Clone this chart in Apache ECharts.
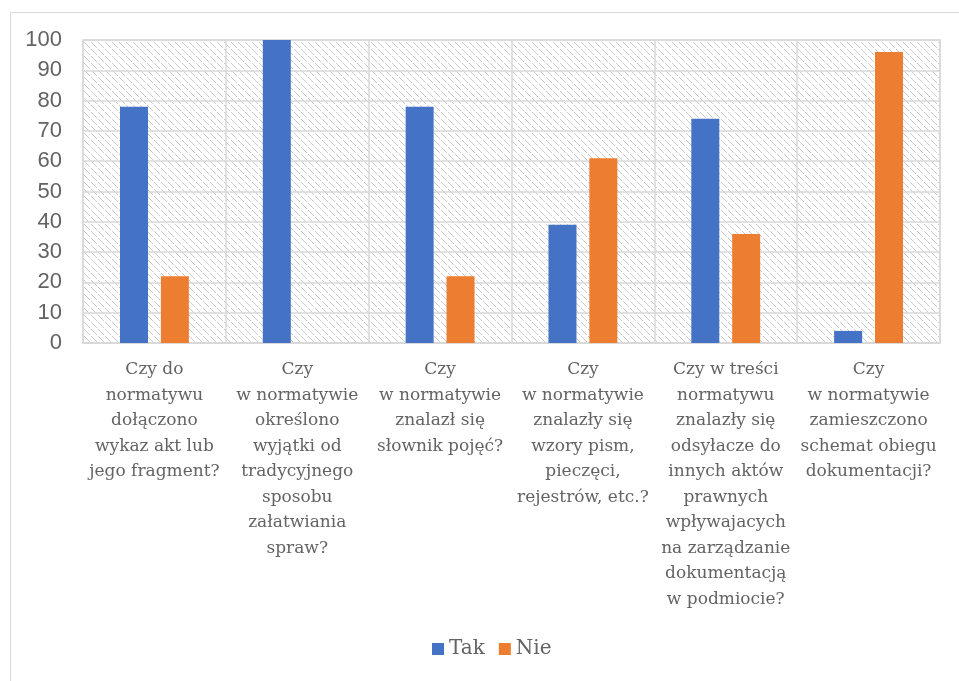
<!DOCTYPE html>
<html>
<head>
<meta charset="utf-8">
<script src="https://cdn.jsdelivr.net/npm/echarts@6/dist/echarts.min.js"></script>
<style>
  html, body { margin: 0; padding: 0; background: #fff; }
  #chart { width: 959px; height: 681px; }
</style>
</head>
<body>
<div id="chart"></div>
<script>
// Survey questions (category axis)
const categories = [
  'Czy do\nnormatywu\ndołączono\nwykaz akt lub\njego fragment?',
  'Czy\nw normatywie\nokreślono\nwyjątki od\ntradycyjnego\nsposobu\nzałatwiania\nspraw?',
  'Czy\nw normatywie\nznalazł się\nsłownik pojęć?',
  'Czy\nw normatywie\nznalazły się\nwzory pism,\npieczęci,\nrejestrów, etc.?',
  'Czy w treści\nnormatywu\nznalazły się\nodsyłacze do\ninnych aktów\nprawnych\nwpływajacych\nna zarządzanie\ndokumentacją\nw podmiocie?',
  'Czy\nw normatywie\nzamieszczono\nschemat obiegu\ndokumentacji?'
];
// Answer shares (%)
const takValues = [78, 100, 78, 39, 74, 4];
const nieValues = [22, 0, 22, 61, 36, 96];
const seriesNames = ['Tak', 'Nie'];

// Light diagonal hatch used as plot background
function hatchPattern() {
  const size = 7;
  const c = document.createElement('canvas');
  c.width = size; c.height = size;
  const ctx = c.getContext('2d');
  ctx.fillStyle = '#ffffff';
  ctx.fillRect(0, 0, size, size);
  ctx.fillStyle = '#cccccc';
  for (let i = 0; i < size; i++) {
    if (i % 7 === 6) continue;
    ctx.fillRect(i, i, 1, 1);
  }
  return c;
}

const chart = echarts.init(document.getElementById('chart'));
chart.setOption({
  animation: false,
  backgroundColor: '#ffffff',
  graphic: [{
    type: 'rect',
    left: 8, top: 10,
    shape: { width: 1000, height: 720 },
    style: { fill: 'none', stroke: '#d9d9d9', lineWidth: 1 },
    silent: true
  }],
  grid: {
    left: 83, right: 19, top: 40, bottom: 338,
    show: true,
    backgroundColor: { image: hatchPattern(), repeat: 'repeat' },
    borderColor: '#d9d9d9',
    borderWidth: 1.5
  },
  legend: {
    data: seriesNames,
    bottom: 17,
    left: 427,
    itemWidth: 12,
    itemHeight: 12,
    itemGap: 14,
    icon: 'rect',
    textStyle: { fontFamily: 'DejaVu Serif', fontSize: 20, color: '#636363' }
  },
  xAxis: {
    type: 'category',
    data: categories,
    axisLine: { show: true, lineStyle: { color: '#d9d9d9', width: 1.5 } },
    axisTick: { show: false },
    splitLine: { show: true, lineStyle: { color: '#d9d9d9', width: 1.5 } },
    axisLabel: {
      interval: 0,
      margin: 14,
      fontFamily: 'DejaVu Serif',
      fontSize: 17,
      lineHeight: 25.5,
      color: '#636363',
      align: 'center'
    }
  },
  yAxis: {
    type: 'value',
    min: 0, max: 100, interval: 10,
    axisLine: { show: false },
    axisTick: { show: false },
    splitLine: { show: true, lineStyle: { color: '#d9d9d9', width: 1.5 } },
    axisLabel: {
      margin: 21,
      fontFamily: 'Liberation Sans',
      fontSize: 22,
      color: '#636363'
    }
  },
  series: [
    {
      name: seriesNames[0],
      type: 'bar',
      data: takValues,
      barWidth: 28,
      barGap: '46%',
      itemStyle: { color: '#4472C4' }
    },
    {
      name: seriesNames[1],
      type: 'bar',
      data: nieValues,
      barWidth: 28,
      barGap: '46%',
      itemStyle: { color: '#ED7D31' }
    }
  ]
});
</script>
</body>
</html>
